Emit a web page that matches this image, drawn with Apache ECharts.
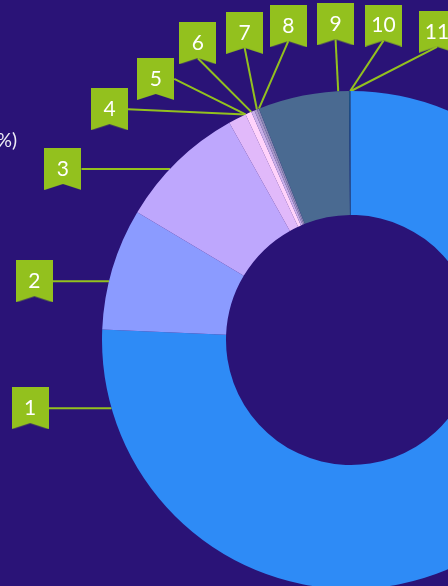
<!DOCTYPE html>
<html>
<head>
<meta charset="utf-8">
<script src="https://cdn.jsdelivr.net/npm/echarts@6/dist/echarts.min.js"></script>
<style>
    html, body { margin: 0; padding: 0; background: #2a1377; }
    #main { width: 448px; height: 586px; }
</style>
</head>
<body>
<div id="main"></div>
<script>
let share_chart = echarts.init(document.getElementById('main'));

// 数据
let names = ['1', '2', '3', '4', '5', '6', '7', '8', '9', '10', '11'];
let values = [75.7, 7.9, 8.3, 1.17, 0.4, 0.22, 0.17, 0.14, 5.9, 0.08, 0.05];
let colors = ['#2e8bf6', '#8b9bff', '#bea7fd', '#e1b9fa', '#ffd3fb', '#c9afe8', '#a898c8', '#8a89b2', '#4a6a91', '#1d5384', '#2a6db0'];

// 旗子标签的位置（从12点钟方向顺时针的角度, 到圆心的距离）
let label_angle = [258, 280.5, 300.7, 313.7, 323.2, 332.7, 340.9, 348.7, 357.2, 5.9, 15.6];
let label_dist = [328, 322, 335, 334, 326, 334, 325, 320, 316, 316, 320];

let center = [351, 340];
let outer_r = 249;
let flag_w = 37, flag_h = 42, notch = 6;

// 每一块的起止角度
let total = values.reduce((a, b) => a + b, 0);
let slice_range = [];
let acc = 0;
values.forEach(v => {
    slice_range.push([acc / total * 360, (acc + v) / total * 360]);
    acc += v;
});

// 旗子背景
let flag = document.createElement('canvas');
flag.width = flag_w;
flag.height = flag_h;
let ctx = flag.getContext('2d');
ctx.fillStyle = '#93c11e';
ctx.beginPath();
ctx.moveTo(0, 0);
ctx.lineTo(flag_w, 0);
ctx.lineTo(flag_w, flag_h);
ctx.lineTo(flag_w / 2, flag_h - notch);
ctx.lineTo(0, flag_h);
ctx.closePath();
ctx.fill();

function arc_point(deg) {
    let a = deg * Math.PI / 180;
    return [center[0] + outer_r * Math.sin(a), center[1] - outer_r * Math.cos(a)];
}

function clamp(v, lo, hi) {
    return Math.max(lo, Math.min(hi, v));
}

let option = {
    backgroundColor: '#2a1377',
    animation: false,
    title: {
        text: 'Share (%)',
        right: 431,
        top: 131,
        padding: 0,
        textStyle: {
            color: '#eeeef6',
            fontSize: 19,
            fontWeight: 'normal',
            fontFamily: 'Lato'
        }
    },
    series: [
        {
            type: 'pie',
            silent: true,
            center: center,
            radius: [125, outer_r],
            startAngle: 90,
            clockwise: true,
            avoidLabelOverlap: false,
            data: names.map((n, i) => ({
                name: n,
                value: values[i],
                itemStyle: {color: colors[i]}
            })),
            label: {
                show: true,
                position: 'outside',
                formatter: '{b}',
                color: '#ffffff',
                fontFamily: 'Lato',
                fontSize: 21,
                width: flag_w,
                lineHeight: 24,
                padding: [8, 0, 10, 0],
                align: 'center',
                backgroundColor: {image: flag}
            },
            labelLine: {
                show: true,
                length: 10,
                length2: 0,
                smooth: false,
                lineStyle: {color: '#93c11e', width: 2}
            },
            labelLayout: function (params) {
                let i = params.dataIndex;
                let a = label_angle[i] * Math.PI / 180;
                let x = center[0] + label_dist[i] * Math.sin(a);
                let y = center[1] - label_dist[i] * Math.cos(a);
                let range = slice_range[i];
                let anchor, deg;
                if (label_angle[i] > 200 && label_angle[i] < 328) {
                    // 左侧：从旗子右边中点水平连到圆环
                    anchor = [x + flag_w / 2, y];
                    let dy = anchor[1] - center[1];
                    let dx = Math.sqrt(Math.max(0, outer_r * outer_r - dy * dy));
                    deg = Math.atan2(-dx, -dy) * 180 / Math.PI;
                } else {
                    // 上方：从旗子底部缺口连到圆环
                    anchor = [x, y + flag_h / 2 - notch];
                    deg = Math.atan2(anchor[0] - center[0], center[1] - anchor[1]) * 180 / Math.PI;
                }
                if (deg < 0) deg += 360;
                if (range[1] > 359 && deg < 90) deg += 360;
                let end = arc_point(clamp(deg, range[0], range[1]));
                return {
                    x: x,
                    y: y,
                    align: 'center',
                    verticalAlign: 'middle',
                    labelLinePoints: [end, anchor, anchor]
                };
            }
        }
    ]
};

share_chart.setOption(option);
</script>
</body>
</html>
